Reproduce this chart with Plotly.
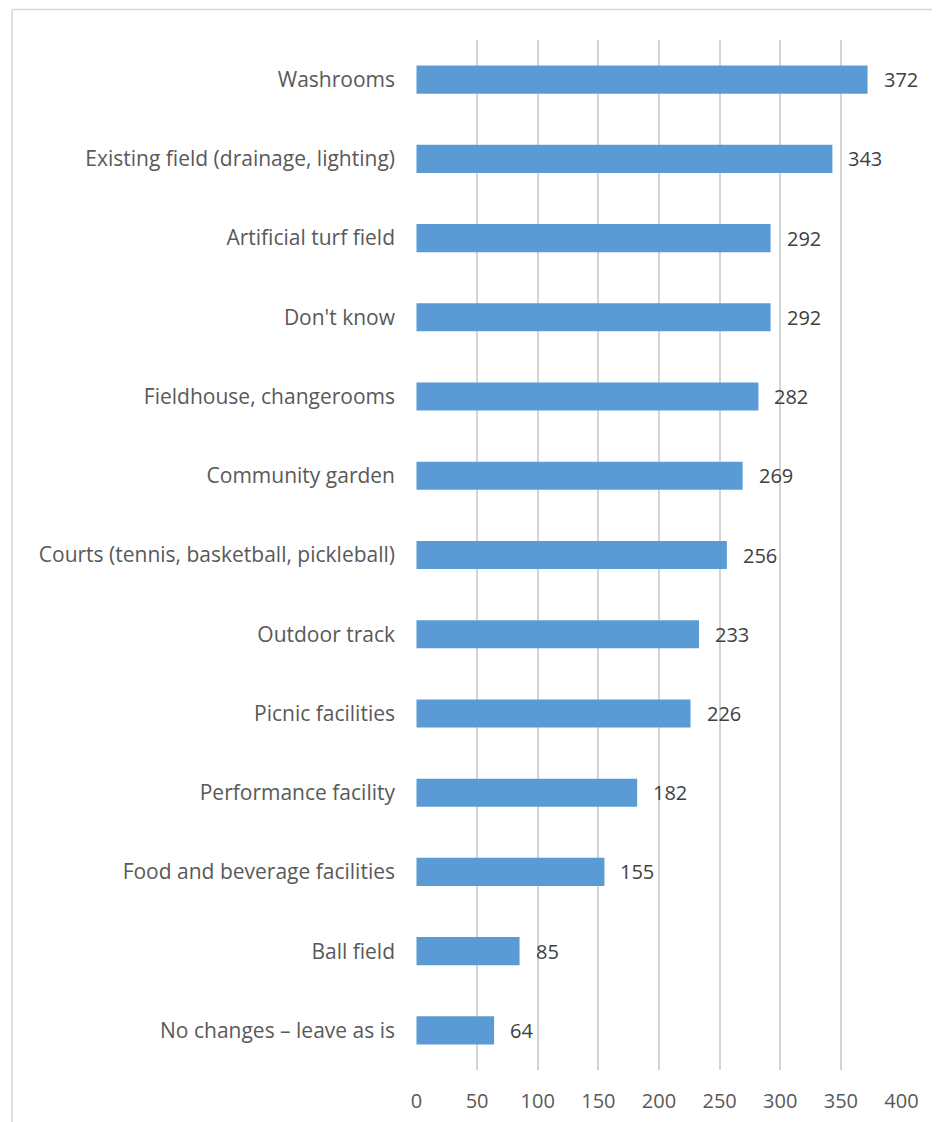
import plotly.graph_objects as go

categories = [
    "Washrooms",
    "Existing field (drainage, lighting)",
    "Artificial turf field",
    "Don't know",
    "Fieldhouse, changerooms",
    "Community garden",
    "Courts (tennis, basketball, pickleball)",
    "Outdoor track",
    "Picnic facilities",
    "Performance facility",
    "Food and beverage facilities",
    "Ball field",
    "No changes \u2013 leave as is",
]
values = [372, 343, 292, 292, 282, 269, 256, 233, 226, 182, 155, 85, 64]
x_ticks = [0, 50, 100, 150, 200, 250, 300, 350, 400]

FONT = "Open Sans, sans-serif"

# page has an 8px body margin, so the figure is 8px smaller than the window
W, H = 932, 1114
ml, mr, mt, mb = 408, 38, 32, 52
pw = W - ml - mr
ph = H - mt - mb

fig = go.Figure(
    go.Bar(
        y=categories,
        x=values,
        orientation="h",
        marker=dict(color="#5B9BD5", line=dict(width=0)),
        width=0.355,
        hoverinfo="x+y",
    )
)

# data labels to the right of each bar
for c, v in zip(categories, values):
    fig.add_annotation(
        x=v, y=c, xref="x", yref="y",
        text=str(v), showarrow=False,
        xanchor="left", yanchor="middle", xshift=14,
        font=dict(family=FONT, size=20, color="#404040"),
    )

fig.update_layout(
    width=W,
    height=H,
    margin=dict(l=ml, r=mr, t=mt, b=mb, autoexpand=False),
    paper_bgcolor="white",
    plot_bgcolor="white",
    showlegend=False,
    font=dict(family=FONT, color="#595959"),
)

fig.update_xaxes(
    automargin=False,
    range=[-0.4, 400.4],
    tickvals=x_ticks,
    ticktext=[str(t) for t in x_ticks],
    showgrid=True,
    gridcolor="#D4D4D4",
    gridwidth=1.5,
    zeroline=False,
    showline=False,
    tickfont=dict(family=FONT, size=20, color="#595959"),
    ticks="",
    ticklabelstandoff=17,
)

fig.update_yaxes(
    automargin=False,
    categoryorder="array",
    categoryarray=categories[::-1],
    autorange=False,
    range=[-0.5, len(categories) - 0.5],
    showgrid=False,
    zeroline=False,
    showline=False,
    ticks="",
    tickfont=dict(family=FONT, size=21, color="#595959"),
    ticklabelstandoff=20,
)

# chart area border (left and top edges visible)
x_left = (4 - ml) / pw
y_top = 1 + (mt - 1.5) / ph
fig.add_shape(type="line", xref="paper", yref="paper",
              x0=x_left, x1=(W + 5 - ml) / pw, y0=y_top, y1=y_top,
              line=dict(color="#D6D6D6", width=1.5))
fig.add_shape(type="line", xref="paper", yref="paper",
              x0=x_left, x1=x_left, y0=y_top, y1=-(mb + 5) / ph,
              line=dict(color="#D6D6D6", width=1.5))

fig.write_html("out.html")
